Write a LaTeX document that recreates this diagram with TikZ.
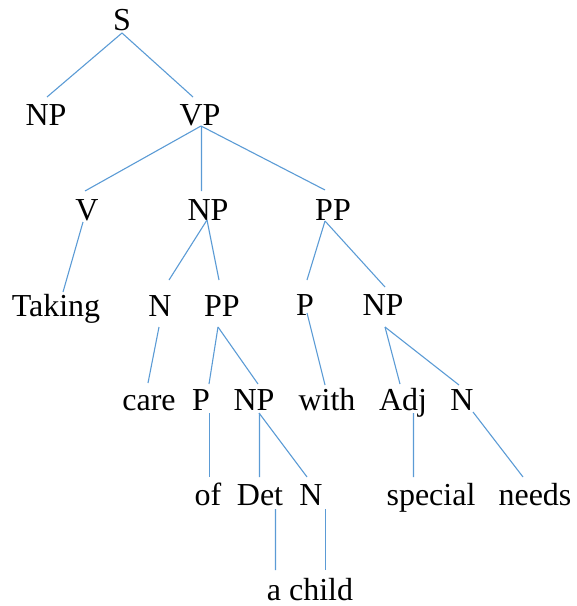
\documentclass[tikz,border=0pt]{standalone}
\usepackage{fontspec}
\setmainfont{Liberation Serif}
\newfontfamily\treefont{Liberation Serif}
\usetikzlibrary{calc}
\definecolor{branch}{HTML}{5B9BD5}
\begin{document}
\begin{tikzpicture}[x=1bp,y=-1bp,
  lab/.style={anchor=base,inner sep=0pt,font=\treefont\fontsize{32bp}{38bp}\selectfont},
  edge/.style={draw=branch,line width=1.1bp}]
\useasboundingbox (0,0) rectangle (577,606);
% labels: (centre x, baseline y)
\node[lab] (S)     at (122,31)  {S};
\node[lab] (NPa)   at (46,126)  {NP};
\node[lab] (VP)    at (200,126) {VP};
\node[lab] (V)     at (87,220)  {V};
\node[lab] (NPb)   at (208,220) {NP};
\node[lab] (PPa)   at (333,220) {PP};
\node[lab] (taking) at (56,316) {Taking};
\node[lab] (Na)    at (160,316) {N};
\node[lab] (PPb)   at (222,316) {PP};
\node[lab] (Pa)    at (305,315) {P};
\node[lab] (NPc)   at (383,315) {NP};
\node[lab] (care)  at (149,410) {care};
\node[lab] (Pb)    at (201,410) {P};
\node[lab] (NPd)   at (254,410) {NP};
\node[lab] (with)  at (327,410) {with};
\node[lab] (Adj)   at (403,410) {Adj};
\node[lab] (Nb)    at (462,410) {N};
\node[lab] (of)    at (208,505) {of};
\node[lab] (Det)   at (260,505) {Det};
\node[lab] (Nc)    at (311,505) {N};
\node[lab] (special) at (431,505) {special};
\node[lab] (needs) at (535,505) {needs};
\node[lab] (child) at (310,600) {a child};
% branches, each end given relative to its label's baseline
\draw[edge] ($(S.base)+(0,2)$)      -- ($(NPa.base)+(1,-29)$);
\draw[edge] ($(S.base)+(0,2)$)      -- ($(VP.base)+(-7,-29)$);
\draw[edge] ($(VP.base)+(1,0)$)     -- ($(V.base)+(-2,-29)$);
\draw[edge] ($(VP.base)+(1.5,0)$)   -- ($(NPb.base)+(-6.5,-29)$);
\draw[edge] ($(VP.base)+(1,0)$)     -- ($(PPa.base)+(-8,-30)$);
\draw[edge] ($(V.base)+(-4,2)$)     -- ($(taking.base)+(7,-24)$);
\draw[edge] ($(NPb.base)+(-1,0)$)   -- ($(Na.base)+(9,-36)$);
\draw[edge] ($(NPb.base)+(-1,0)$)   -- ($(PPb.base)+(-3,-36)$);
\draw[edge] ($(PPa.base)+(-8,1)$)   -- ($(Pa.base)+(2,-35)$);
\draw[edge] ($(PPa.base)+(-8,1)$)   -- ($(NPc.base)+(2,-28)$);
\draw[edge] ($(Na.base)+(-1,11)$)   -- ($(care.base)+(-1,-27)$);
\draw[edge] ($(PPb.base)+(-4,11)$)  -- ($(Pb.base)+(8,-26)$);
\draw[edge] ($(PPb.base)+(-4,11)$)  -- ($(NPd.base)+(4,-26)$);
\draw[edge] ($(Pa.base)+(2,-2)$)    -- ($(with.base)+(-2,-25)$);
\draw[edge] ($(NPc.base)+(2,12)$)   -- ($(Adj.base)+(-3,-26)$);
\draw[edge] ($(NPc.base)+(2,12)$)   -- ($(Nb.base)+(-3,-25)$);
\draw[edge] ($(Pb.base)+(8.5,3)$)   -- ($(of.base)+(1.5,-28)$);
\draw[edge] ($(NPd.base)+(5.5,3)$)  -- ($(Det.base)+(-0.5,-28)$);
\draw[edge] ($(NPd.base)+(5,3)$)    -- ($(Nc.base)+(-4,-28)$);
\draw[edge] ($(Adj.base)+(10.5,3)$) -- ($(special.base)+(-17.5,-28)$);
\draw[edge] ($(Nb.base)+(11,2)$)    -- ($(needs.base)+(-12,-28)$);
\draw[edge] ($(Det.base)+(15.5,4)$) -- ($(child.base)+(-34.5,-30)$);
\draw[edge] ($(Nc.base)+(14.5,4)$)  -- ($(child.base)+(15.5,-30)$);
\end{tikzpicture}
\end{document}
